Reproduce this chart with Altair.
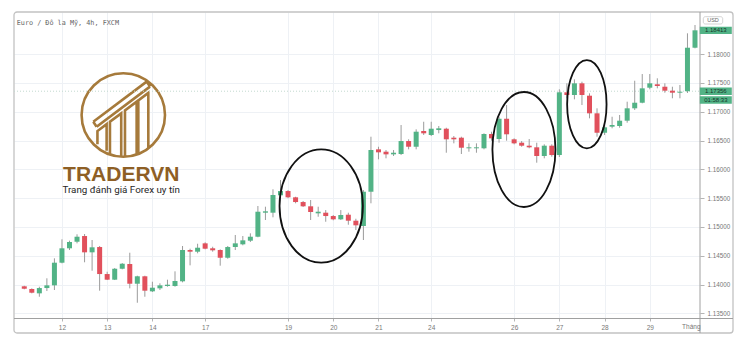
import altair as alt
import pandas as pd

# ---- data (EUR/USD 4h candles) ----
date_idx = [5, 11, 17, 24, 35, 41, 47, 54, 65, 71, 77, 83]
date_labels = ["12", "13", "14", "17", "19", "20", "21", "24", "26", "27", "28", "29"]
price_ticks = [1.135, 1.14, 1.145, 1.15, 1.155, 1.16, 1.165, 1.17, 1.175, 1.18]

opens = [1.13969, 1.13922, 1.13847, 1.13939, 1.13986, 1.14379, 1.14629, 1.14743, 1.14842, 1.14559,
         1.14651, 1.14182, 1.14084, 1.14274, 1.14356, 1.14014, 1.14143, 1.13882, 1.13934, 1.13974,
         1.13974, 1.14056, 1.14599, 1.14570, 1.14715, 1.14629, 1.14599, 1.14465, 1.14651, 1.14698,
         1.14761, 1.14830, 1.15247, 1.15247, 1.15549, 1.15623, 1.15514, 1.15432, 1.15358, 1.15236,
         1.15247, 1.15189, 1.15132, 1.15212, 1.15108, 1.15016, 1.15611, 1.16347, 1.16306, 1.16260,
         1.16266, 1.16491, 1.16392, 1.16665, 1.16596, 1.16682, 1.16705, 1.16549, 1.16549, 1.16365,
         1.16365, 1.16365, 1.16613, 1.16526, 1.16878, 1.16521, 1.16462, 1.16410, 1.16382, 1.16231,
         1.16410, 1.16248, 1.17337, 1.17290, 1.17493, 1.17278, 1.16972, 1.16635, 1.16740, 1.16752,
         1.16844, 1.17059, 1.17156, 1.17417, 1.17476, 1.17434, 1.17365, 1.17330, 1.17356, 1.18111]
highs = [1.13979, 1.13934, 1.13962, 1.14108, 1.14455, 1.14785, 1.14761, 1.14872, 1.14877, 1.14773,
         1.14669, 1.14222, 1.14287, 1.14373, 1.14552, 1.14153, 1.14153, 1.14049, 1.14021, 1.14084,
         1.14229, 1.14669, 1.14622, 1.14708, 1.14733, 1.14656, 1.14611, 1.14669, 1.14860, 1.14842,
         1.14889, 1.15363, 1.15351, 1.15653, 1.15814, 1.15641, 1.15524, 1.15450, 1.15467, 1.15351,
         1.15293, 1.15207, 1.15293, 1.15247, 1.15142, 1.15640, 1.16566, 1.16392, 1.16335, 1.16335,
         1.16769, 1.16521, 1.16694, 1.16826, 1.16826, 1.16752, 1.16722, 1.16578, 1.16566, 1.16451,
         1.16451, 1.16625, 1.16653, 1.16913, 1.17116, 1.16538, 1.16491, 1.16526, 1.16462, 1.16434,
         1.16434, 1.17389, 1.17493, 1.17562, 1.17521, 1.17319, 1.17059, 1.16769, 1.16913, 1.16943,
         1.17174, 1.17538, 1.17654, 1.17654, 1.17580, 1.17493, 1.17434, 1.17464, 1.18361, 1.18505]
lows = [1.13917, 1.13847, 1.13788, 1.13887, 1.13905, 1.14368, 1.14599, 1.14715, 1.14386, 1.14240,
        1.13893, 1.14078, 1.14078, 1.14264, 1.13934, 1.13684, 1.13788, 1.13870, 1.13905, 1.13962,
        1.13962, 1.14038, 1.14333, 1.14542, 1.14611, 1.14570, 1.14327, 1.14448, 1.14599, 1.14681,
        1.14738, 1.14820, 1.15120, 1.15167, 1.15524, 1.15497, 1.15410, 1.15346, 1.15120, 1.15177,
        1.15090, 1.15115, 1.15120, 1.15038, 1.14946, 1.14773, 1.15410, 1.16174, 1.16191, 1.16231,
        1.16248, 1.16347, 1.16347, 1.16596, 1.16578, 1.16625, 1.16288, 1.16451, 1.16266, 1.16306,
        1.16288, 1.16347, 1.16497, 1.16462, 1.16497, 1.16434, 1.16392, 1.16365, 1.16115, 1.16191,
        1.16219, 1.16214, 1.17233, 1.17215, 1.17116, 1.16885, 1.16566, 1.16596, 1.16712, 1.16722,
        1.16809, 1.17030, 1.17146, 1.17389, 1.17406, 1.17330, 1.17233, 1.17233, 1.17325, 1.18100]
closes = [1.13927, 1.13858, 1.13939, 1.13986, 1.14379, 1.14629, 1.14738, 1.14830, 1.14559, 1.14646,
          1.14182, 1.14084, 1.14274, 1.14361, 1.14014, 1.14143, 1.13893, 1.13945, 1.13986, 1.13997,
          1.14061, 1.14599, 1.14570, 1.14639, 1.14622, 1.14594, 1.14465, 1.14651, 1.14715, 1.14767,
          1.14830, 1.15264, 1.15271, 1.15554, 1.15623, 1.15514, 1.15432, 1.15358, 1.15259, 1.15264,
          1.15189, 1.15132, 1.15207, 1.15108, 1.15028, 1.15611, 1.16335, 1.16295, 1.16260, 1.16288,
          1.16491, 1.16392, 1.16653, 1.16625, 1.16705, 1.16712, 1.16521, 1.16521, 1.16375, 1.16382,
          1.16382, 1.16613, 1.16538, 1.16878, 1.16608, 1.16451, 1.16410, 1.16382, 1.16231, 1.16410,
          1.16248, 1.17337, 1.17290, 1.17493, 1.17290, 1.16972, 1.16635, 1.16729, 1.16769, 1.16844,
          1.17059, 1.17156, 1.17406, 1.17493, 1.17446, 1.17365, 1.17330, 1.17347, 1.18111, 1.18413]

box_prices = [1.18413, 1.17356]
box_labels = ["1.18413", "1.17356"]
countdown = "01:58:33"

# annotation ellipses: centre (bar index, price)
ell_idx = [39.4, 66.3, 74.65]
ell_price = [1.15363, 1.16344, 1.17130]

# ---- styling ----
GREEN = "#52b386"
RED = "#e1505c"
WICK = "#9b9b9b"
GRID = "#eef1f5"
AXC = "#777777"

df = pd.DataFrame({"i": list(range(len(opens))), "open": opens, "high": highs,
                   "low": lows, "close": closes})
df["dir"] = ["up" if c >= o else "down" for o, c in zip(opens, closes)]

xs = alt.Scale(domain=[-0.7, 89.0], nice=False, zero=False)
ys = alt.Scale(domain=[1.13419, 1.18731], nice=False, zero=False)

label_expr = ("[" + ",".join(f"'{l}'" for l in date_labels) + "][indexof(["
              + ",".join(str(v) for v in date_idx) + "], datum.value)]")

xaxis = alt.Axis(values=date_idx, labelExpr=label_expr, title=None, domain=False,
                 grid=True, gridColor=GRID, tickColor="#b5b5b5", tickSize=3,
                 labelPadding=3, labelFontSize=6.5, labelColor=AXC,
                 labelFont="Liberation Sans", labelOverlap=False)
yaxis = alt.Axis(values=price_ticks, format=".5f", orient="right", title=None,
                 domain=False, grid=True, gridColor=GRID, tickColor="#b5b5b5",
                 tickSize=4, labelPadding=3, labelFontSize=6.3, labelColor=AXC,
                 labelFont="Liberation Sans")

X = alt.X("i:Q", scale=xs, axis=xaxis)

one = pd.DataFrame({"a": [0]})

frame = alt.Chart(one).mark_rect(fillOpacity=0, stroke="#c2c2c2", strokeWidth=1.3,
                                 cornerRadius=3).encode(
    x=alt.value(0), x2=alt.value(719), y=alt.value(0), y2=alt.value(321))
divider = alt.Chart(one).mark_rule(color="#a0a0a0", strokeWidth=1).encode(
    x=alt.value(686), y=alt.value(0), y2=alt.value(321))
xline = alt.Chart(one).mark_rule(color="#a0a0a0", strokeWidth=1).encode(
    x=alt.value(0), x2=alt.value(719), y=alt.value(306.5))

wicks = alt.Chart(df).mark_rule(color=WICK, strokeWidth=1).encode(
    x=X, y=alt.Y("low:Q", scale=ys, axis=yaxis), y2="high:Q")
bodies = alt.Chart(df).mark_bar(size=5).encode(
    x=X, y=alt.Y("open:Q", scale=ys, axis=yaxis), y2="close:Q",
    color=alt.Color("dir:N", scale=alt.Scale(domain=["up", "down"], range=[GREEN, RED]),
                    legend=None))

bdf = pd.DataFrame({"price": box_prices, "label": box_labels})
dotted = alt.Chart(bdf.iloc[[1]]).mark_rule(color="#c3d9cf", strokeDash=[1, 2],
                                            strokeWidth=1).encode(
    y=alt.Y("price:Q", scale=ys, axis=yaxis), x=alt.value(0), x2=alt.value(686))

BOX = "M-1,-0.23 L1,-0.23 L1,0.23 L-1,0.23 Z"
boxes = alt.Chart(bdf).mark_point(shape=BOX, filled=True, size=1024, color=GREEN,
                                  opacity=1).encode(
    y=alt.Y("price:Q", scale=ys, axis=yaxis), x=alt.value(701.8))
box_text = alt.Chart(bdf).mark_text(fontSize=6, color="#16352a", font="Liberation Sans",
                                    baseline="middle").encode(
    y=alt.Y("price:Q", scale=ys, axis=yaxis), x=alt.value(701.8), text="label:N")
cd = pd.DataFrame({"label": [countdown]})
cd_box = alt.Chart(cd).mark_point(shape=BOX, filled=True, size=1024, color=GREEN,
                                  opacity=1).encode(x=alt.value(701.8), y=alt.value(88))
cd_text = alt.Chart(cd).mark_text(fontSize=6, color="#16352a", font="Liberation Sans",
                                  baseline="middle").encode(
    x=alt.value(701.8), y=alt.value(88), text="label:N")

usd_box = alt.Chart(one).mark_rect(fill="white", stroke="#c8c8c8", strokeWidth=0.8,
                                   cornerRadius=2).encode(
    x=alt.value(689.3), x2=alt.value(708.7), y=alt.value(4.7), y2=alt.value(12))
usd_text = alt.Chart(pd.DataFrame({"t": ["USD"]})).mark_text(
    fontSize=5.5, color="#666", font="Liberation Sans", baseline="middle").encode(
    x=alt.value(699), y=alt.value(8.4), text="t:N")

title = alt.Chart(pd.DataFrame({"t": ["Euro / Đô la Mỹ, 4h, FXCM"]})).mark_text(
    fontSize=6.8, color="#666", font="DejaVu Sans Mono", align="left",
    baseline="middle").encode(x=alt.value(2.7), y=alt.value(11.3), text="t:N")
month = alt.Chart(pd.DataFrame({"t": ["Tháng"]})).mark_text(
    fontSize=6.5, color=AXC, font="Liberation Sans", align="right",
    baseline="middle").encode(x=alt.value(686.5), y=alt.value(315.3), text="t:N")


def ellipse_path(rx, ry=1.0):
    k = 0.5523
    f = lambda v: f"{v:.4f}"
    return (f"M{f(rx)},0 C{f(rx)},{f(k*ry)} {f(k*rx)},{f(ry)} 0,{f(ry)} "
            f"C{f(-k*rx)},{f(ry)} {f(-rx)},{f(k*ry)} {f(-rx)},0 "
            f"C{f(-rx)},{f(-k*ry)} {f(-k*rx)},{f(-ry)} 0,{f(-ry)} "
            f"C{f(k*rx)},{f(-ry)} {f(rx)},{f(-k*ry)} {f(rx)},0 Z")


ell_shapes = [(0.735, 113.4), (0.548, 115.0), (0.446, 88.4)]
ellipses = []
for (ix, pr), (rx, side) in zip(zip(ell_idx, ell_price), ell_shapes):
    ellipses.append(
        alt.Chart(pd.DataFrame({"i": [ix], "p": [pr]})).mark_point(
            shape=ellipse_path(rx), filled=False, stroke="#111", strokeWidth=1.8,
            size=side * side, opacity=1).encode(
            x=X, y=alt.Y("p:Q", scale=ys, axis=yaxis)))

# ---- watermark logo ----
logo_path = (ellipse_path(1.0) + " "
             "M-0.72,0.16 L0.56,-0.80 M-0.64,0.28 L0.64,-0.68 M-0.72,0.16 L-0.64,0.28 "
             "M0.56,-0.80 L0.64,-0.68 "
             "M-0.62,0.70 L-0.62,0.385 L-0.40,0.22 L-0.40,0.86 "
             "M-0.32,0.92 L-0.32,0.16 L-0.05,-0.04 L-0.05,0.98 "
             "M0.04,0.97 L0.04,-0.11 L0.32,-0.32 L0.32,0.92 "
             "M0.36,0.90 L0.36,-0.35 L0.60,-0.53 L0.60,0.78")
GOLD = "#a67a3b"
logo = alt.Chart(one).mark_point(shape=logo_path, filled=False, stroke=GOLD,
                                 strokeWidth=2.6, size=83.4 * 83.4, opacity=1).encode(
    x=alt.value(109.3), y=alt.value(103))
brand = alt.Chart(pd.DataFrame({"t": ["TRADERVN"]})).mark_text(
    fontSize=21, fontWeight="bold", color="#8e5f25", font="Liberation Sans",
    align="center", baseline="alphabetic").encode(
    x=alt.value(107.2), y=alt.value(168.7), text="t:N")
tagline = alt.Chart(pd.DataFrame({"t": ["Trang đánh giá Forex uy tín"]})).mark_text(
    fontSize=9.8, color="#262626", font="Roboto", align="center",
    baseline="alphabetic").encode(x=alt.value(107.2), y=alt.value(181), text="t:N")

chart = alt.layer(
    frame, divider, xline, logo, brand, tagline, dotted, wicks, bodies, *ellipses,
    boxes, box_text, cd_box, cd_text, usd_box, usd_text, title, month
).properties(
    width=686, height=306,
    padding={"left": 14, "top": 12, "right": 50, "bottom": 30},
    autosize=alt.AutoSizeParams(type="none"),
    background="white",
).configure_view(stroke=None)

chart.save("out.html", embed_options={"renderer": "svg", "actions": False})
